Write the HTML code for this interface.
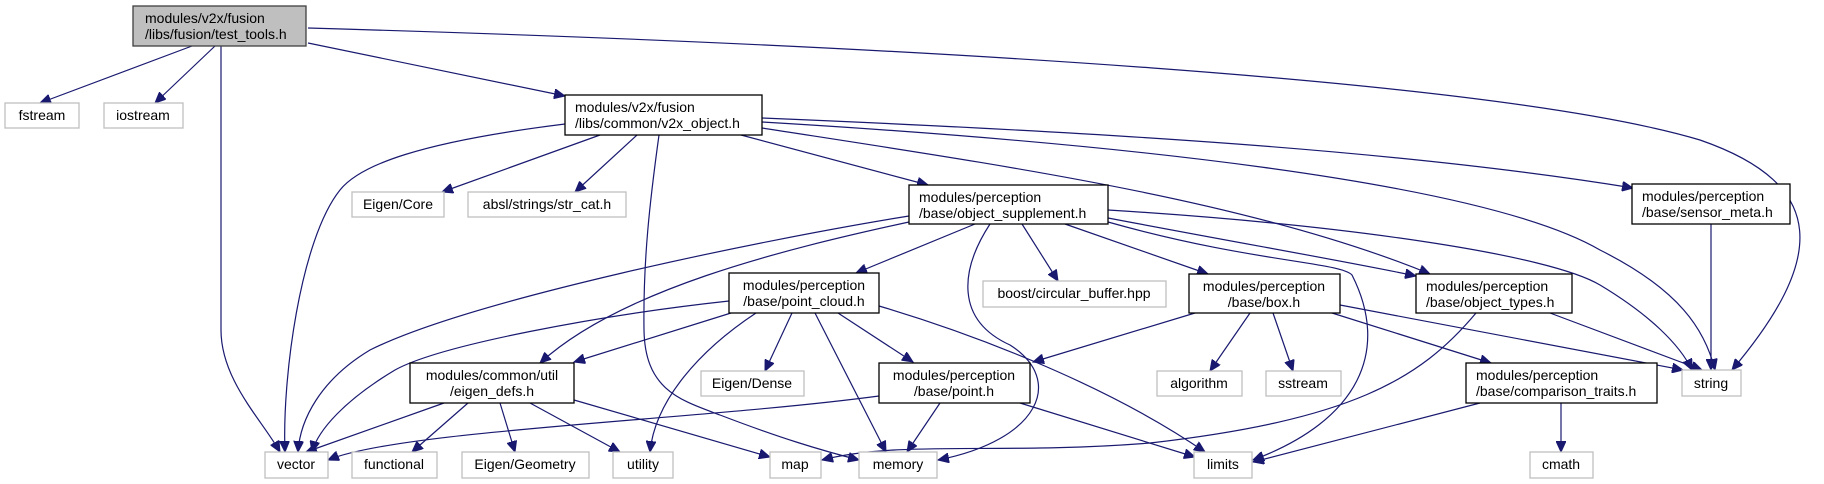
<!DOCTYPE html>
<html><head><meta charset="utf-8"><style>
html,body{margin:0;padding:0;background:#fff;}
svg{display:block;}
text{font-family:"Liberation Sans","DejaVu Sans",sans-serif;font-size:14px;fill:#000;}
.n{fill:#fff;stroke:#000;stroke-width:1.3;}
.g{fill:#fff;stroke:#bfbfbf;stroke-width:1.3;}
.e{fill:none;stroke:#191970;stroke-width:1.2;}
</style></head><body>
<svg width="1824" height="484" viewBox="0 0 1824 484" xmlns="http://www.w3.org/2000/svg">
<defs>
<marker id="a" markerUnits="userSpaceOnUse" markerWidth="12" markerHeight="10" refX="11" refY="5" orient="auto">
<path d="M0,0 L11,5 L0,10 z" fill="#191970" stroke="#191970"/>
</marker>
</defs>
<g class="e" marker-end="url(#a)">
<path d="M192,46 L40,103"/>
<path d="M215,46 L155,103"/>
<path d="M221,46 L221,330 C221,380 262,420 280,452"/>
<path d="M308,43 L565,96"/>
<path d="M308,28 C900,45 1500,80 1700,140 C1830,185 1825,260 1732,370"/>
<path d="M565,124 C420,142 360,165 340,190 C300,240 282,380 285,452"/>
<path d="M600,135 L442,192"/>
<path d="M637,135 L575,192"/>
<path d="M659,135 C650,200 643,260 644,330 C645,390 680,400 720,415 C780,438 820,450 859,460"/>
<path d="M741,135 L928,185"/>
<path d="M762,118 C1100,132 1400,150 1633,188"/>
<path d="M762,122 C1100,142 1480,180 1600,250 C1680,290 1705,330 1715,370"/>
<path d="M762,128 C1000,165 1250,200 1430,274"/>
<path d="M909,216 C760,240 470,300 370,350 C320,380 300,420 298,452"/>
<path d="M909,222 C780,250 620,290 540,363"/>
<path d="M975,224 L856,273"/>
<path d="M990,224 C960,270 955,320 1010,345 C1065,380 1040,440 938,460"/>
<path d="M1022,224 L1058,281"/>
<path d="M1065,224 L1208,274"/>
<path d="M1108,218 C1250,245 1350,262 1416,276"/>
<path d="M1108,222 C1250,262 1340,262 1352,275 C1390,350 1360,420 1253,460"/>
<path d="M1108,210 C1350,225 1550,255 1600,285 C1650,315 1680,345 1692,370"/>
<path d="M729,301 C600,315 440,345 395,370 C345,400 318,430 312,452"/>
<path d="M731,313 L574,362"/>
<path d="M756,313 C700,350 655,400 650,452"/>
<path d="M792,313 L765,371"/>
<path d="M815,313 L886,452"/>
<path d="M838,313 L913,362"/>
<path d="M879,306 C960,330 1100,380 1205,452"/>
<path d="M444,403 L306,452"/>
<path d="M468,403 L412,452"/>
<path d="M500,403 L515,452"/>
<path d="M530,403 L620,452"/>
<path d="M574,400 L770,457"/>
<path d="M879,396 C700,420 400,430 328,460"/>
<path d="M940,403 L907,452"/>
<path d="M1020,403 L1195,457"/>
<path d="M1195,313 L1033,362"/>
<path d="M1250,313 L1210,371"/>
<path d="M1273,313 L1293,371"/>
<path d="M1332,313 L1491,363"/>
<path d="M1340,305 L1683,370"/>
<path d="M1550,313 L1702,370"/>
<path d="M1476,313 C1420,380 1350,420 1150,443 C1000,455 900,440 822,460"/>
<path d="M1711,224 L1711,370"/>
<path d="M1480,403 L1253,462"/>
<path d="M1561,403 L1561,452"/>
</g>
<rect x="133" y="6" width="173" height="40" fill="#bfbfbf" stroke="#404040" stroke-width="1.3"/>
<text x="145" y="23">modules/v2x/fusion</text><text x="145" y="39">/libs/fusion/test_tools.h</text>
<rect class="g" x="5" y="103" width="74" height="25"/><text x="42" y="120" text-anchor="middle">fstream</text>
<rect class="g" x="104" y="103" width="79" height="25"/><text x="143" y="120" text-anchor="middle">iostream</text>
<rect class="n" x="565" y="95" width="197" height="40"/>
<text x="575" y="112">modules/v2x/fusion</text><text x="575" y="128">/libs/common/v2x_object.h</text>
<rect class="g" x="352" y="192" width="92" height="25"/><text x="398" y="209" text-anchor="middle">Eigen/Core</text>
<rect class="g" x="468" y="192" width="158" height="25"/><text x="547" y="209" text-anchor="middle">absl/strings/str_cat.h</text>
<rect class="n" x="909" y="185" width="199" height="39"/>
<text x="919" y="202">modules/perception</text><text x="919" y="218">/base/object_supplement.h</text>
<rect class="n" x="1632" y="184" width="158" height="40"/>
<text x="1642" y="201">modules/perception</text><text x="1642" y="217">/base/sensor_meta.h</text>
<rect class="n" x="729" y="273" width="150" height="40"/>
<text x="804" y="290" text-anchor="middle">modules/perception</text><text x="804" y="306" text-anchor="middle">/base/point_cloud.h</text>
<rect class="g" x="983" y="281" width="183" height="26"/><text x="1074" y="298" text-anchor="middle">boost/circular_buffer.hpp</text>
<rect class="n" x="1189" y="274" width="151" height="39"/>
<text x="1264" y="291" text-anchor="middle">modules/perception</text><text x="1264" y="307" text-anchor="middle">/base/box.h</text>
<rect class="n" x="1416" y="274" width="156" height="39"/>
<text x="1426" y="291">modules/perception</text><text x="1426" y="307">/base/object_types.h</text>
<rect class="n" x="410" y="363" width="164" height="40"/>
<text x="492" y="380" text-anchor="middle">modules/common/util</text><text x="492" y="396" text-anchor="middle">/eigen_defs.h</text>
<rect class="g" x="701" y="371" width="103" height="25"/><text x="752" y="388" text-anchor="middle">Eigen/Dense</text>
<rect class="n" x="879" y="363" width="151" height="40"/>
<text x="954" y="380" text-anchor="middle">modules/perception</text><text x="954" y="396" text-anchor="middle">/base/point.h</text>
<rect class="g" x="1157" y="371" width="85" height="25"/><text x="1199" y="388" text-anchor="middle">algorithm</text>
<rect class="g" x="1266" y="371" width="75" height="25"/><text x="1303" y="388" text-anchor="middle">sstream</text>
<rect class="n" x="1466" y="363" width="191" height="40"/>
<text x="1476" y="380">modules/perception</text><text x="1476" y="396">/base/comparison_traits.h</text>
<rect class="g" x="1682" y="370" width="59" height="26"/><text x="1711" y="388" text-anchor="middle">string</text>
<rect class="g" x="265" y="452" width="63" height="26"/><text x="296" y="469" text-anchor="middle">vector</text>
<rect class="g" x="352" y="452" width="85" height="26"/><text x="394" y="469" text-anchor="middle">functional</text>
<rect class="g" x="462" y="452" width="127" height="26"/><text x="525" y="469" text-anchor="middle">Eigen/Geometry</text>
<rect class="g" x="613" y="452" width="60" height="26"/><text x="643" y="469" text-anchor="middle">utility</text>
<rect class="g" x="770" y="452" width="51" height="26"/><text x="795" y="469" text-anchor="middle">map</text>
<rect class="g" x="859" y="452" width="78" height="26"/><text x="898" y="469" text-anchor="middle">memory</text>
<rect class="g" x="1194" y="452" width="58" height="26"/><text x="1223" y="469" text-anchor="middle">limits</text>
<rect class="g" x="1530" y="452" width="63" height="26"/><text x="1561" y="469" text-anchor="middle">cmath</text>
</svg>
</body></html>
